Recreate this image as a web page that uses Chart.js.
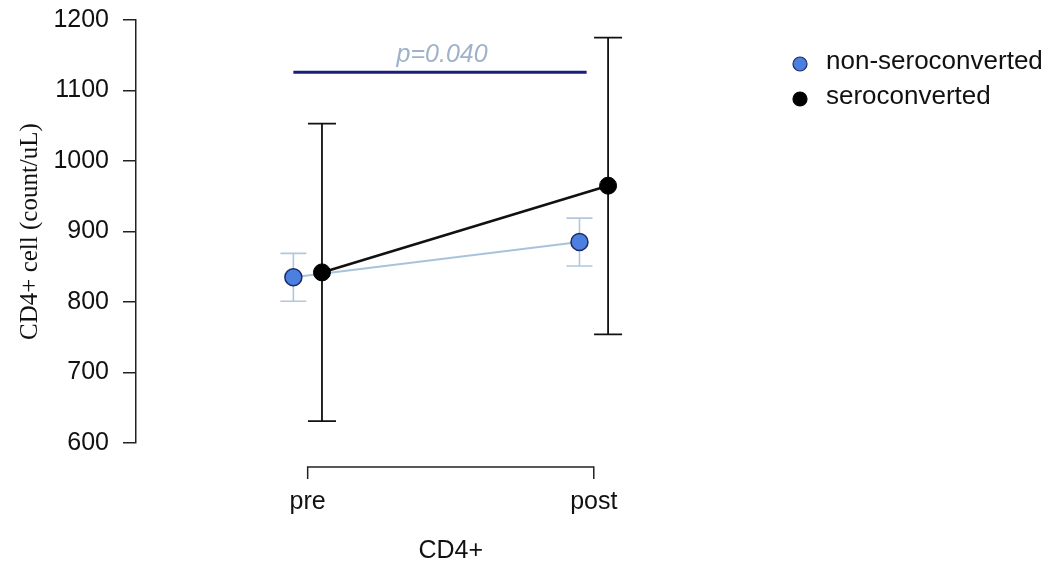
<!DOCTYPE html>
<html>
<head>
<meta charset="utf-8">
<script src="https://cdn.jsdelivr.net/npm/chart.js@4.4.1/dist/chart.umd.min.js"></script>
<style>
  html, body { margin: 0; padding: 0; background: #fff; }
  #wrap { width: 1060px; height: 564px; }
</style>
</head>
<body>
<div id="wrap"><canvas id="chart" width="1060" height="564"></canvas></div>
<script>
// data
var timepoints = ["pre", "post"];
var seriesNames = ["non-seroconverted", "seroconverted"];
var nonSeroMean = [835, 885];
var nonSeroLow = [801, 851];
var nonSeroHigh = [869, 919];
var seroMean = [842, 965];
var seroLow = [631, 754];
var seroHigh = [1053, 1175];
var yTicks = [600, 700, 800, 900, 1000, 1100, 1200];
var pLabel = "p=0.040";
var pLevel = 1126;

// dodge groups so the two series don't overlap
var dodge = 0.05;
var SANS = "'Liberation Sans', Arial, sans-serif";

function points(vals, off) {
  return vals.map(function(v, i) { return { x: i + off, y: v }; });
}

var errs = [
  { low: nonSeroLow, high: nonSeroHigh, off: -dodge, color: "#b3c6dc", width: 1.6, cap: 13 },
  { low: seroLow, high: seroHigh, off: dodge, color: "#111", width: 1.8, cap: 14 }
];

var extras = {
  id: "extras",
  beforeDatasetsDraw: function(chart) {
    var ctx = chart.ctx, xs = chart.scales.x, ys = chart.scales.y;
    ctx.save();
    errs.forEach(function(e) {
      ctx.strokeStyle = e.color;
      ctx.lineWidth = e.width;
      e.low.forEach(function(lo, i) {
        var x = xs.getPixelForValue(i + e.off);
        var y1 = ys.getPixelForValue(lo), y2 = ys.getPixelForValue(e.high[i]);
        ctx.beginPath();
        ctx.moveTo(x, y1); ctx.lineTo(x, y2);
        ctx.moveTo(x - e.cap, y1); ctx.lineTo(x + e.cap, y1);
        ctx.moveTo(x - e.cap, y2); ctx.lineTo(x + e.cap, y2);
        ctx.stroke();
      });
    });
    ctx.restore();
  },
  afterDraw: function(chart) {
    var ctx = chart.ctx, xs = chart.scales.x, ys = chart.scales.y;
    ctx.save();
    // significance bar
    var py = ys.getPixelForValue(pLevel);
    ctx.strokeStyle = "#1b1f78";
    ctx.lineWidth = 3;
    ctx.beginPath();
    ctx.moveTo(xs.getPixelForValue(-dodge), py);
    ctx.lineTo(xs.getPixelForValue(1 - dodge / 2), py);
    ctx.stroke();
    ctx.fillStyle = "#9fb2c9";
    ctx.font = "italic 25px " + SANS;
    ctx.textAlign = "center";
    ctx.textBaseline = "alphabetic";
    ctx.fillText(pLabel, xs.getPixelForValue(0.47), py - 10);

    // x axis as a bracket
    var x0 = xs.getPixelForValue(0), x1 = xs.getPixelForValue(timepoints.length - 1);
    var by = 467;
    ctx.strokeStyle = "#222";
    ctx.lineWidth = 1.5;
    ctx.beginPath();
    ctx.moveTo(x0, by + 12); ctx.lineTo(x0, by); ctx.lineTo(x1, by); ctx.lineTo(x1, by + 12);
    ctx.stroke();
    ctx.fillStyle = "#111";
    ctx.font = "25px " + SANS;
    ctx.textBaseline = "middle";
    timepoints.forEach(function(t, i) {
      ctx.fillText(t, xs.getPixelForValue(i), 502);
    });
    ctx.fillText("CD4+", (x0 + x1) / 2, 551);

    // legend
    var lx = 800, rows = [62, 97];
    ctx.textAlign = "left";
    ctx.font = "26px " + SANS;
    chart.data.datasets.forEach(function(ds) {
      var j = seriesNames.indexOf(ds.label);
      ctx.beginPath();
      ctx.arc(lx, rows[j] + 2, 7, 0, Math.PI * 2);
      ctx.fillStyle = ds.pointBackgroundColor;
      ctx.fill();
      ctx.lineWidth = 1.2;
      ctx.strokeStyle = ds.pointBorderColor;
      ctx.stroke();
      ctx.fillStyle = "#111";
      ctx.fillText(ds.label, lx + 26, rows[j]);
    });
    ctx.restore();
  }
};

new Chart(document.getElementById("chart"), {
  type: "line",
  data: {
    datasets: [
      {
        label: seriesNames[0],
        data: points(nonSeroMean, -dodge),
        borderColor: "#a9c3dc",
        borderWidth: 2,
        pointBackgroundColor: "#4b7fe0",
        pointBorderColor: "#1d2b66",
        pointBorderWidth: 1.5,
        pointRadius: 8.5,
        order: 1
      },
      {
        label: seriesNames[1],
        data: points(seroMean, dodge),
        borderColor: "#111",
        borderWidth: 2.6,
        pointBackgroundColor: "#000",
        pointBorderColor: "#000",
        pointBorderWidth: 1,
        pointRadius: 8.5,
        order: 0
      }
    ]
  },
  options: {
    responsive: false,
    animation: false,
    layout: { padding: { top: 20, bottom: 121, left: 0, right: 409 } },
    plugins: { legend: { display: false }, tooltip: { enabled: false } },
    scales: {
      x: { type: "linear", min: -0.6, max: 1.2, display: false },
      y: {
        min: 600,
        max: 1200,
        afterFit: function(s) {
          s.width = 136;
          s.paddingTop = 0;
          s.paddingBottom = 0;
        },
        afterBuildTicks: function(s) { s.ticks = yTicks.map(function(v) { return { value: v }; }); },
        border: { display: true, color: "#222", width: 1.5 },
        grid: { drawOnChartArea: false, tickLength: 13, color: "#222", lineWidth: 1.5 },
        ticks: {
          color: "#111",
          padding: 14,
          font: { family: SANS, size: 25 },
          callback: function(v) { return String(v); }
        },
        title: {
          display: true,
          text: "CD4+ cell (count/uL)",
          color: "#111",
          font: { family: "'Liberation Serif', 'Times New Roman', serif", size: 25 },
          padding: { top: 15, bottom: 0 }
        }
      }
    }
  },
  plugins: [extras]
});
</script>
</body>
</html>
